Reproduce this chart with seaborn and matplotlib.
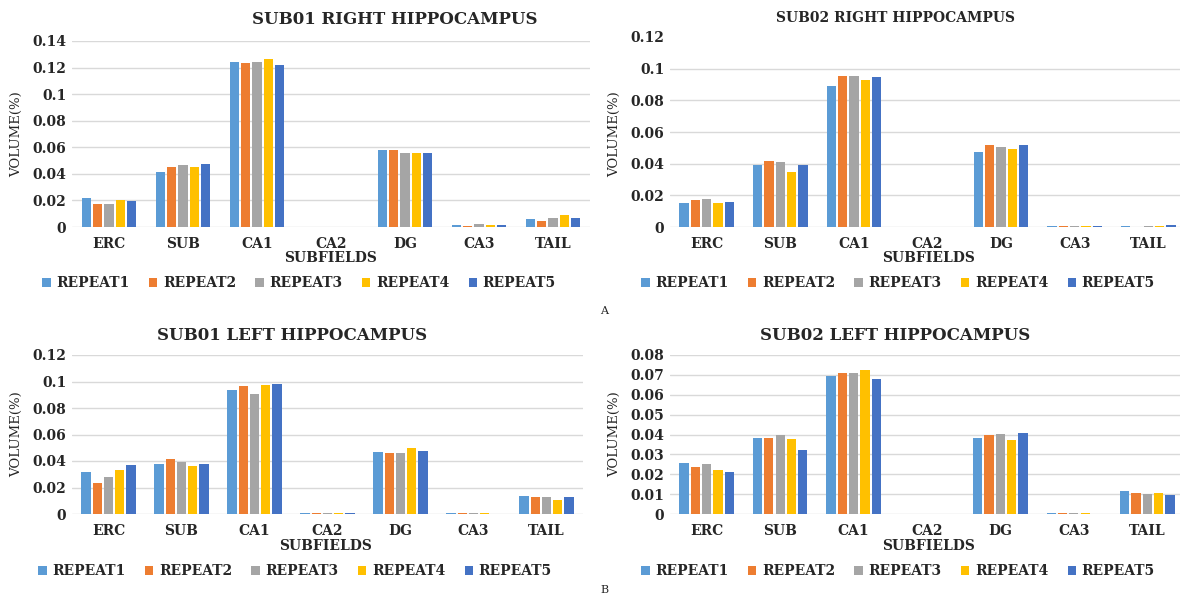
import numpy as np
import pandas as pd
import matplotlib
matplotlib.use("Agg")
import matplotlib.pyplot as plt
from matplotlib.ticker import FuncFormatter, FixedLocator
import seaborn as sns

# Subfield volumes (% of intracranial volume) for five repeated scans
subfields = ["ERC", "SUB", "CA1", "CA2", "DG", "CA3", "TAIL"]
repeats = ["REPEAT1", "REPEAT2", "REPEAT3", "REPEAT4", "REPEAT5"]
colors = ["#5B9BD5", "#ED7D31", "#A5A5A5", "#FFC000", "#4472C4"]

# SUB01 right hippocampus, one list per repeat (ERC .. TAIL)
sub01_right = [
    [0.0218, 0.0413, 0.1245, 0.0, 0.0580, 0.0018, 0.0060],
    [0.0170, 0.0453, 0.1233, 0.0, 0.0580, 0.0010, 0.0048],
    [0.0175, 0.0468, 0.1245, 0.0, 0.0558, 0.0025, 0.0065],
    [0.0200, 0.0448, 0.1263, 0.0, 0.0558, 0.0018, 0.0090],
    [0.0195, 0.0473, 0.1223, 0.0, 0.0558, 0.0018, 0.0070],
]
# SUB02 right hippocampus
sub02_right = [
    [0.0152, 0.0390, 0.0890, 0.0, 0.0474, 0.0005, 0.0005],
    [0.0173, 0.0415, 0.0954, 0.0, 0.0516, 0.0005, 0.0002],
    [0.0179, 0.0410, 0.0954, 0.0, 0.0507, 0.0004, 0.0004],
    [0.0152, 0.0347, 0.0926, 0.0, 0.0495, 0.0005, 0.0005],
    [0.0156, 0.0394, 0.0947, 0.0, 0.0516, 0.0005, 0.0010],
]
# SUB01 left hippocampus
sub01_left = [
    [0.0314, 0.0380, 0.0933, 0.0006, 0.0468, 0.0005, 0.0133],
    [0.0236, 0.0413, 0.0966, 0.0010, 0.0460, 0.0010, 0.0128],
    [0.0279, 0.0392, 0.0908, 0.0006, 0.0463, 0.0005, 0.0128],
    [0.0335, 0.0365, 0.0971, 0.0006, 0.0496, 0.0007, 0.0103],
    [0.0372, 0.0377, 0.0979, 0.0007, 0.0475, 0.0002, 0.0126],
]
# SUB02 left hippocampus
sub02_left = [
    [0.0255, 0.0384, 0.0693, 0.0, 0.0384, 0.0004, 0.0116],
    [0.0237, 0.0384, 0.0711, 0.0, 0.0399, 0.0004, 0.0104],
    [0.0250, 0.0399, 0.0711, 0.0, 0.0404, 0.0004, 0.0099],
    [0.0221, 0.0379, 0.0727, 0.0, 0.0374, 0.0004, 0.0104],
    [0.0213, 0.0320, 0.0678, 0.0, 0.0409, 0.0000, 0.0094],
]

titles = ["SUB01 RIGHT HIPPOCAMPUS", "SUB02 RIGHT HIPPOCAMPUS",
          "SUB01 LEFT HIPPOCAMPUS", "SUB02 LEFT HIPPOCAMPUS"]
y_max = [0.14, 0.12, 0.12, 0.08]
y_step = [0.02, 0.02, 0.02, 0.01]
# whether the gridline at the top of the value range is drawn
top_grid = [True, False, True, True]

W, H = 1180, 598
sns.set_style("white")
plt.rcParams["font.family"] = ["DejaVu Serif"]

fig = plt.figure(figsize=(W / 100, H / 100), dpi=100)
fig.patch.set_facecolor("white")


def rect(l, t, r, b):
    return [l / W, 1 - b / H, (r - l) / W, (b - t) / H]


def pt(x, y):
    return x / W, 1 - y / H


panels = [
    dict(data=sub01_right, box=rect(72, 41, 590, 227), title=(395, 19, 12),
         xlab=(331, 258), leg=(299, 283), ylab=(17, 134)),
    dict(data=sub02_right, box=rect(670, 37, 1185, 227), title=(895, 18, 10),
         xlab=(929, 258), leg=(898, 283), ylab=(615, 134)),
    dict(data=sub01_left, box=rect(72, 355, 583, 514), title=(292, 335, 12),
         xlab=(326, 546), leg=(295, 571), ylab=(17, 434)),
    dict(data=sub02_left, box=rect(670, 355, 1184, 514), title=(895, 335, 12),
         xlab=(929, 546), leg=(898, 571), ylab=(615, 434)),
]

fmt = FuncFormatter(lambda v, _: "%g" % round(v, 4))

for i, p in enumerate(panels):
    rows = []
    for rep, vals in zip(repeats, p["data"]):
        for sf, v in zip(subfields, vals):
            rows.append({"subfield": sf, "repeat": rep, "volume": v})
    df = pd.DataFrame(rows)

    ax = fig.add_axes(p["box"])
    sns.barplot(data=df, x="subfield", y="volume", hue="repeat",
                order=subfields, hue_order=repeats, palette=colors,
                saturation=1, width=0.77, gap=0.18, linewidth=0,
                errorbar=None, ax=ax, legend=True)
    ax.set_xlim(-0.5, len(subfields) - 0.5)
    ax.set_ylim(0, y_max[i])
    ticks = np.round(np.arange(0, y_max[i] + y_step[i] / 2, y_step[i]), 4)
    ax.yaxis.set_major_locator(FixedLocator(ticks))
    ax.yaxis.set_major_formatter(fmt)
    ax.grid(False)
    # horizontal gridlines at each major tick
    grid_ticks = ticks if top_grid[i] else ticks[:-1]
    for t in grid_ticks:
        ax.axhline(t, color="#D9D9D9", linewidth=1.0, zorder=0.5)
    for s in ax.spines.values():
        s.set_visible(False)
    ax.tick_params(axis="both", length=0, labelsize=10)
    ax.tick_params(axis="x", pad=7)
    ax.tick_params(axis="y", pad=4)
    for lab in ax.get_xticklabels() + ax.get_yticklabels():
        lab.set_fontweight("bold")
    ax.set_xlabel("")
    ax.set_ylabel("")

    handles, labels = ax.get_legend_handles_labels()
    ax.get_legend().remove()
    lx, ly = pt(*p["leg"])
    fig.legend(handles, labels, loc="center", bbox_to_anchor=(lx, ly),
               ncol=5, frameon=False, handlelength=0.6, handleheight=0.6,
               handletextpad=0.4, columnspacing=1.4,
               prop={"weight": "bold", "size": 10})

    tx, ty, ts = p["title"]
    fig.text(*pt(tx, ty), titles[i], ha="center", va="center",
             fontsize=ts, fontweight="bold")
    fig.text(*pt(*p["xlab"]), "SUBFIELDS", ha="center", va="center",
             fontsize=10, fontweight="bold")
    fig.text(*pt(*p["ylab"]), "VOLUME(%)", ha="center", va="center",
             rotation=90, fontsize=9.5)

fig.text(*pt(604, 311), "A", ha="center", va="center", fontsize=8)
fig.text(*pt(604, 590), "B", ha="center", va="center", fontsize=8)

fig.savefig("out.png", dpi=100, facecolor="white")
